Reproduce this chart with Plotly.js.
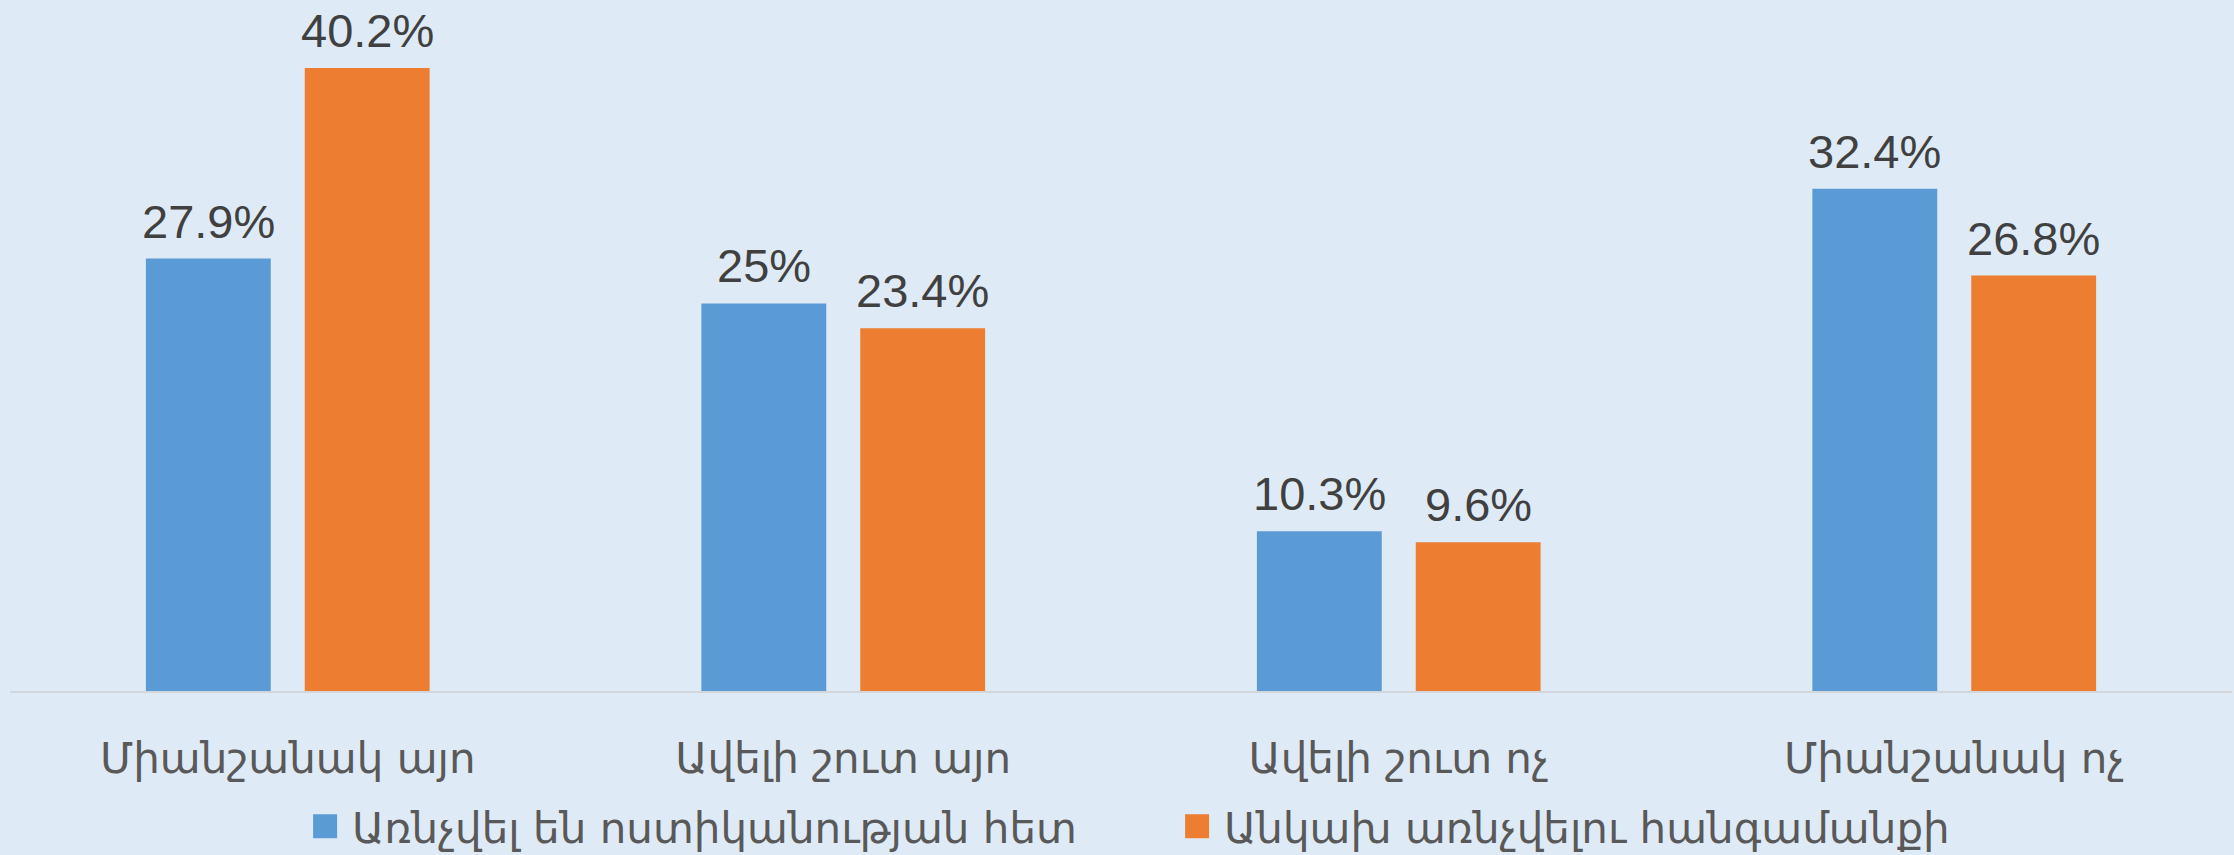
<!DOCTYPE html>
<html>
<head>
<meta charset="utf-8">
<script src="https://cdn.plot.ly/plotly-3.0.1.min.js"></script>
<style>
  html, body { margin: 0; padding: 0; background: #DEEBF7; }
  #chart { width: 2234px; height: 855px; }
</style>
</head>
<body>
<div id="chart"></div>
<script>
const categories = ["Միանշանակ այո", "Ավելի շուտ այո", "Ավելի շուտ ոչ", "Միանշանակ ոչ"];
const seriesNames = ["Առնչվել են ոստիկանության հետ", "Անկախ առնչվելու հանգամանքի"];
const policeValues = [27.9, 25, 10.3, 32.4];
const allValues = [40.2, 23.4, 9.6, 26.8];
const seriesColors = ["#5B9BD5", "#ED7D31"];

const W = 2234, H = 855;
const margin = {l: 10, r: 2, t: 0, b: 164, autoexpand: false};
const bargap = 0.428, bargroupgap = 0.214;
const plotW = W - margin.l - margin.r;
const catW = plotW / categories.length;
const slot = catW * (1 - bargap) / 2;

const seriesValues = [policeValues, allValues];
const traces = seriesValues.map((vals, i) => ({
  type: "bar",
  name: seriesNames[i],
  x: categories,
  y: vals,
  marker: {color: seriesColors[i]},
  hoverinfo: "skip"
}));

const annotations = [];
seriesValues.forEach((vals, i) => {
  vals.forEach((v, j) => {
    annotations.push({
      x: categories[j], y: v, xref: "x", yref: "y",
      text: v + "%",
      showarrow: false,
      yanchor: "bottom",
      xshift: (i === 0 ? -1 : 1) * slot / 2,
      yshift: 9,
      font: {family: "Liberation Sans, Arial, sans-serif", size: 47, color: "#404040"}
    });
  });
});

const layout = {
  width: W, height: H,
  margin: margin,
  paper_bgcolor: "#DEEBF7",
  plot_bgcolor: "#DEEBF7",
  barmode: "group",
  bargap: bargap,
  bargroupgap: bargroupgap,
  showlegend: true,
  legend: {
    orientation: "h", x: 0.5284, xanchor: "center", y: -0.196, yanchor: "middle",
    font: {family: "DejaVu Sans", size: 42, color: "#595959"},
    bgcolor: "rgba(0,0,0,0)",
    entrywidth: 827, entrywidthmode: "pixels"
  },
  xaxis: {
    type: "category",
    showline: true, linecolor: "#D3D7DC", linewidth: 2,
    ticks: "", showgrid: false, zeroline: false,
    ticklabelstandoff: 30,
    tickfont: {family: "DejaVu Sans", size: 42, color: "#595959"}
  },
  yaxis: {
    range: [0, 44.58],
    showgrid: false, zeroline: false, showticklabels: false, ticks: "", showline: false
  },
  annotations: annotations
};

Plotly.newPlot("chart", traces, layout, {displayModeBar: false, staticPlot: true}).then(gd => {
  gd.querySelectorAll(".legend .legendpoints path").forEach(p => {
    p.setAttribute("d", "M5,12H-19V-12H5Z");
  });
});
</script>
</body>
</html>
